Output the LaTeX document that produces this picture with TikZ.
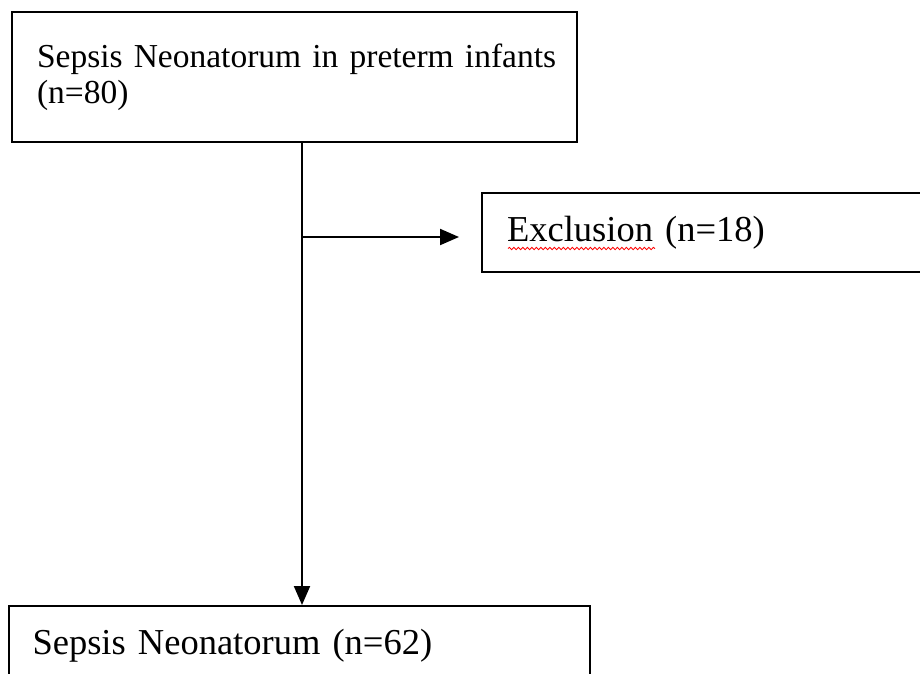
\documentclass[tikz,border=0pt]{standalone}
\usepackage{fontspec}
\setmainfont{Liberation Serif}
\usepackage{tikz}
\usetikzlibrary{positioning, arrows.meta, decorations.pathmorphing}

\begin{document}
\begin{tikzpicture}[x=1pt, y=-1pt,
        box/.style={draw, line width=2pt, rectangle, anchor=north west, align=left,
          inner ysep=0pt, font=\fontsize{36.5}{40}\selectfont},
        flowarr/.style={line width=2pt, -{Triangle[length=19pt, width=16pt]}},
        spellmark/.style={red, line width=0.8pt, decorate,
          decoration={snake, amplitude=1.2pt, segment length=4.5pt}}]
        \clip (0,0) rectangle (920,673);
        \fill[white] (0,0) rectangle (920,673);
        \node[box, minimum width=565pt, minimum height=130pt, text width=515pt, inner xsep=25pt,
          font=\fontsize{33.5}{36}\selectfont] (total) at (11,11)
          {\mbox{Sepsis Neonatorum in preterm infants}\\(n=80)};
        \node[box, minimum width=480pt, minimum height=79pt, text width=430pt, inner xsep=25pt]
          (excl) at (481,192) {Exclusion (n=18)};
        \node[box, minimum width=581pt, minimum height=80pt, text width=533pt, inner xsep=24pt]
          (final) at (7.5,605) {Sepsis Neonatorum (n=62)};
        \coordinate (split) at (302,237);
        \draw[flowarr] (total.south -| split) -- (final.north -| split);
        \draw[flowarr, shorten >=22pt] (split) -- (split -| excl.west);
        \draw[spellmark] ([shift={(27,16)}]excl.west) -- ([shift={(174,16)}]excl.west);
      \end{tikzpicture}
\end{document}
